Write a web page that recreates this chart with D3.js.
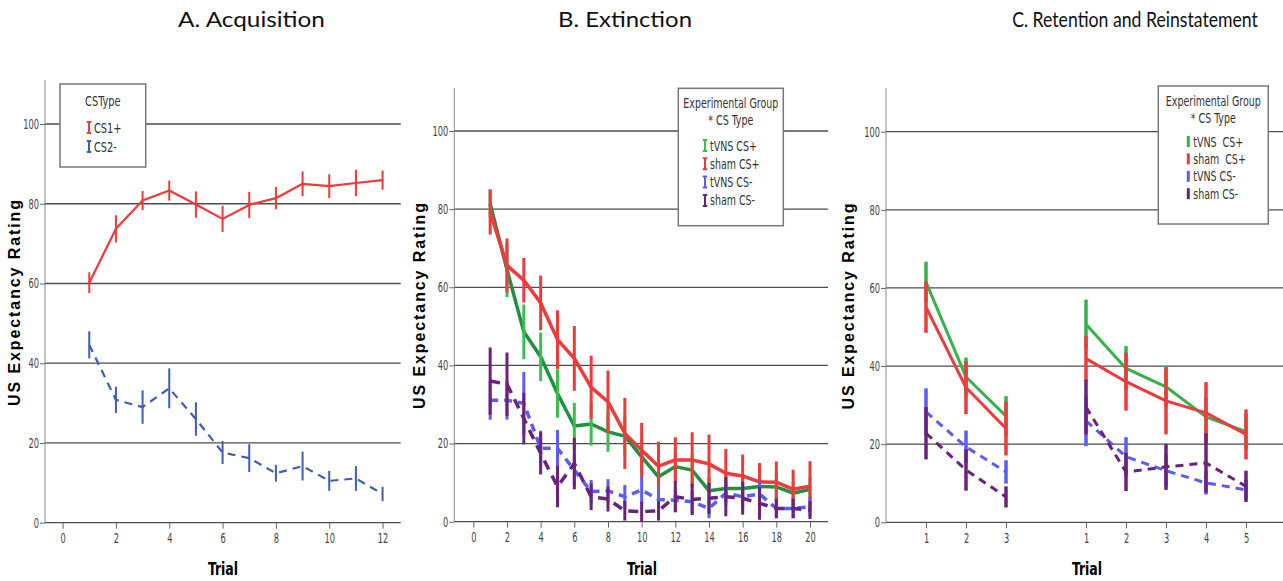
<!DOCTYPE html>
<html><head><meta charset="utf-8">
<script src="https://cdn.jsdelivr.net/npm/d3@7/dist/d3.min.js"></script>
<style>
body{margin:0;background:#fff;}
text{font-family:"Liberation Sans Narrow","DejaVu Sans Condensed",sans-serif;}
</style></head>
<body>
<script>
// ---------- DATA ----------
const yTicks = [0, 20, 40, 60, 80, 100];

// A. Acquisition
const acqTrials = [1,2,3,4,5,6,7,8,9,10,11,12];
const acqXTicks = [0,2,4,6,8,10,12];
const acqCS1Mean = [60.2, 73.7, 80.8, 83.3, 79.8, 76.2, 79.7, 81.4, 85.0, 84.4, 85.2, 85.9];
const acqCS1Err  = [2.6, 3.4, 2.4, 2.5, 3.3, 3.3, 3.3, 2.8, 3.1, 3.0, 3.3, 2.4];
const acqCS2Mean = [44.6, 30.8, 29.0, 33.7, 26.0, 17.6, 16.2, 12.4, 14.2, 10.5, 11.1, 7.2];
const acqCS2Err  = [3.4, 3.3, 4.2, 5.0, 4.2, 2.9, 3.5, 2.1, 3.6, 2.5, 3.1, 1.8];

// B. Extinction
const extTrials = d3.range(1, 21);
const extXTicks = [0,2,4,6,8,10,12,14,16,18,20];
const extTvnsPlus     = [81.4, 64.5, 48.6, 42.2, 32.8, 24.5, 25.0, 23.0, 21.9, 16.6, 11.5, 14.1, 13.2, 7.9, 8.5, 8.5, 9.0, 8.9, 7.3, 8.3];
const extTvnsPlusErr  = [3.5, 7.0, 7.0, 6.2, 6.2, 5.9, 5.5, 5.1, 5.0, 4.5, 4.0, 4.0, 4.0, 3.5, 3.5, 3.5, 3.5, 3.5, 3.0, 3.0];
const extShamPlus     = [79.3, 65.6, 61.8, 56.0, 46.6, 41.8, 34.4, 30.7, 22.6, 18.3, 14.2, 15.8, 15.8, 14.8, 12.4, 11.7, 10.2, 10.1, 8.3, 9.1];
const extShamPlusErr  = [5.8, 6.9, 5.7, 7.0, 7.5, 8.3, 8.1, 8.0, 9.1, 7.0, 6.3, 5.8, 7.1, 7.5, 6.2, 5.5, 4.8, 5.3, 5.0, 6.4];
const extTvnsMinus    = [31.1, 31.1, 30.3, 18.8, 18.8, 13.2, 7.7, 7.9, 6.4, 8.1, 5.7, 5.5, 5.1, 3.4, 7.3, 6.4, 7.1, 3.4, 3.4, 3.8];
const extTvnsMinusErr = [5.0, 5.0, 8.0, 4.5, 4.7, 4.0, 3.0, 3.0, 3.0, 3.4, 3.0, 3.0, 3.0, 2.5, 3.0, 3.0, 3.0, 2.5, 2.5, 2.5];
const extShamMinus    = [36.0, 35.2, 26.4, 17.5, 9.0, 14.9, 6.4, 5.8, 2.8, 2.6, 2.8, 6.4, 5.7, 6.0, 6.4, 6.0, 4.7, 3.4, 3.4, 3.0];
const extShamMinusErr = [8.6, 8.1, 6.6, 5.4, 5.3, 6.6, 3.4, 3.2, 2.5, 2.5, 2.5, 4.0, 4.0, 4.0, 5.0, 4.2, 4.2, 2.5, 2.5, 2.3];

// C. Retention and Reinstatement
const retTrials  = [1, 2, 3];
const reinTrials = [1, 2, 3, 4, 5];
const retTvnsPlus      = [61.5, 37.2, 27.2];
const retTvnsPlusErr   = [5.2, 5.0, 5.1];
const retShamPlus      = [55.1, 34.5, 24.0];
const retShamPlusErr   = [6.6, 6.8, 6.9];
const retTvnsMinus     = [28.3, 19.3, 12.9];
const retTvnsMinusErr  = [6.0, 4.2, 3.0];
const retShamMinus     = [22.8, 13.4, 6.5];
const retShamMinusErr  = [6.7, 5.3, 2.7];
const reinTvnsPlus     = [50.7, 39.4, 34.7, 27.0, 23.2];
const reinTvnsPlusErr  = [6.3, 5.7, 5.3, 5.0, 4.5];
const reinShamPlus     = [41.9, 36.0, 31.1, 28.0, 22.5];
const reinShamPlusErr  = [5.8, 7.4, 8.6, 7.9, 6.4];
const reinTvnsMinus    = [26.0, 16.8, 13.2, 10.1, 8.3];
const reinTvnsMinusErr = [6.5, 5.0, 4.0, 3.0, 2.5];
const reinShamMinus    = [29.5, 12.9, 14.2, 15.2, 9.2];
const reinShamMinusErr = [7.0, 4.9, 5.9, 7.6, 4.0];

const titles = ["A. Acquisition", "B. Extinction", "C. Retention and Reinstatement"];
const titleWidths = [147, 134, 246];
const yLabel = "US Expectancy Rating";
const xLabel = "Trial";

// ---------- DRAW ----------
const W = 1283, H = 581;
const svg = d3.select("body").append("svg").attr("width", W).attr("height", H);
const NARROW = '"Liberation Sans Narrow","DejaVu Sans Condensed",sans-serif';

const C = {
  red: "#ef3a3c", blueA: "#3f5cb8",
  greenLine: "#1f9140", greenBar: "#3cbd4c", greenC: "#35b24a",
  blue: "#5a5cff", purple: "#6c2279"
};

// scale text horizontally (around its anchor) to mimic a narrow font
function squeeze(sel, f, target) {
  sel.each(function () {
    const el = d3.select(this);
    const w = this.getComputedTextLength();
    const s = target ? target / w : f;
    const x = +el.attr("x") || 0, y = +el.attr("y") || 0;
    el.attr("x", 0).attr("y", 0).attr("transform", `translate(${x},${y}) scale(${s},1)`);
  });
}

function frame(p, idx) {
  const g = svg.append("g");
  g.selectAll("line.grid").data(yTicks).join("line")
    .attr("x1", p.x0).attr("x2", p.x1)
    .attr("y1", d => p.y(d)).attr("y2", d => p.y(d))
    .attr("stroke", "#4d4d4d").attr("stroke-width", 1.3);
  const ya = g.append("g").attr("transform", `translate(${p.x0},0)`)
    .call(d3.axisLeft(p.y).tickValues(yTicks).tickSize(5).tickPadding(1));
  ya.select(".domain").attr("stroke", "#8a8a8a").attr("d", `M0,${p.y.range()[0]}V${p.yTop}`);
  ya.selectAll(".tick line").attr("stroke", "#666");
  ya.selectAll(".tick text").attr("fill", "#444").style("font-size", "13.5px").style("font-family", NARROW);
  squeeze(ya.selectAll(".tick text"), 0.68);
  const xa = g.append("g").attr("transform", `translate(0,${p.y(0)})`)
    .call(d3.axisBottom(p.x).tickValues(p.xTicks).tickSize(6).tickPadding(5)
      .tickFormat(p.xFormat || (d => d)));
  xa.select(".domain").remove();
  xa.selectAll(".tick line").attr("stroke", "#666");
  xa.selectAll(".tick text").attr("fill", "#444").style("font-size", "13.5px").style("font-family", NARROW);
  squeeze(xa.selectAll(".tick text"), 0.68);
  const tt = svg.append("text").attr("x", p.titleX).attr("y", 27).attr("text-anchor", "middle")
    .style("font-family", 'Lato,"Open Sans",sans-serif').style("font-size", "21.5px").attr("fill", "#111")
    .text(p.title);
  squeeze(tt, 1, titleWidths[idx]);
  svg.append("text").attr("transform", `translate(${p.yLabX},${p.yLabY}) rotate(-90)`)
    .attr("text-anchor", "middle").attr("dominant-baseline", "central")
    .style("font-family", '"Liberation Sans",Arial,sans-serif').style("font-weight", "bold")
    .style("font-size", "16px").style("letter-spacing", "1.9px").attr("fill", "#000")
    .text(yLabel);
  const xl = svg.append("text").attr("x", p.xLabX).attr("y", 575).attr("text-anchor", "middle")
    .style("font-family", NARROW)
    .style("font-weight", "bold").style("font-size", "17px").attr("fill", "#000")
    .text(xLabel);
  squeeze(xl, 0.82);
  return g;
}

function series(g, p, xs, means, errs, o) {
  const pts = xs.map((t, i) => ({ t, v: means[i], e: errs[i] }));
  const line = d3.line().x(d => p.x(d.t)).y(d => p.y(d.v));
  g.append("path").attr("d", line(pts)).attr("fill", "none")
    .attr("stroke", o.line).attr("stroke-width", o.lw)
    .attr("stroke-dasharray", o.dash || null).attr("stroke-linejoin", "round");
  g.selectAll(null).data(pts).join("line")
    .attr("x1", d => p.x(d.t)).attr("x2", d => p.x(d.t))
    .attr("y1", d => p.y(d.v - d.e)).attr("y2", d => p.y(d.v + d.e))
    .attr("stroke", o.bar || o.line).attr("stroke-width", o.bw);
}

function legend(p, L) {
  const g = svg.append("g");
  g.append("rect").attr("x", L.x).attr("y", L.y).attr("width", L.w).attr("height", L.h)
    .attr("fill", "#fff").attr("stroke", "#777").attr("stroke-width", 1.5);
  L.title.forEach((t, i) => {
    const tt = g.append("text").attr("x", L.x + L.w / 2).attr("y", L.ty + i * 16.5)
      .attr("text-anchor", "middle").style("font-size", L.fs).attr("fill", "#333").text(t);
    squeeze(tt, 0.78);
  });
  L.items.forEach((it, i) => {
    const yy = L.iy + i * L.step;
    if (L.caps) {
      g.append("path").attr("d", `M${L.mx - 2.2},${yy - 6}H${L.mx + 2.2}M${L.mx},${yy - 6}V${yy + 5}M${L.mx - 2.2},${yy + 5}H${L.mx + 2.2}`)
        .attr("stroke", it.c).attr("stroke-width", 2).attr("fill", "none");
    } else {
      g.append("line").attr("x1", L.mx).attr("x2", L.mx).attr("y1", yy - 6).attr("y2", yy + 5)
        .attr("stroke", it.c).attr("stroke-width", 3);
    }
    const tx = g.append("text").attr("x", L.mx + 5).attr("y", yy + 4.5).style("font-size", L.fs)
      .attr("fill", "#333").style("white-space", "pre").text(it.t);
    squeeze(tx, 0.78);
  });
}

// ---- Panel A ----
{
  const p = {
    x: d3.scaleLinear().domain([-0.66, 12.68]).range([45, 400.7]),
    y: d3.scaleLinear().domain([0, 100]).range([522.7, 124]),
    x0: 45, x1: 400.7, yTop: 80, xTicks: acqXTicks,
    title: titles[0], titleX: 251.5, yLabX: 14, yLabY: 302, xLabX: 223
  };
  const g = frame(p, 0);
  series(g, p, acqTrials, acqCS2Mean, acqCS2Err, { line: C.blueA, lw: 2.2, bw: 2, dash: "8,6" });
  series(g, p, acqTrials, acqCS1Mean, acqCS1Err, { line: C.red, lw: 2.2, bw: 2 });
  legend(p, { x: 60, y: 84, w: 85.7, h: 83, ty: 106, title: ["CSType"], fs: "14px",
    iy: 128, step: 19, mx: 89, caps: true,
    items: [{ t: "CS1+", c: C.red }, { t: "CS2-", c: C.blueA }] });
}

// ---- Panel B ----
{
  const p = {
    x: d3.scaleLinear().domain([-1.13, 21.07]).range([454.3, 828]),
    y: d3.scaleLinear().domain([0, 100]).range([521.7, 131]),
    x0: 454.3, x1: 828, yTop: 88, xTicks: extXTicks,
    title: titles[1], titleX: 625, yLabX: 419, yLabY: 305, xLabX: 642
  };
  const g = frame(p, 1);
  series(g, p, extTrials, extTvnsPlus, extTvnsPlusErr, { line: C.greenLine, bar: C.greenBar, lw: 3.5, bw: 3 });
  series(g, p, extTrials, extShamPlus, extShamPlusErr, { line: C.red, lw: 3.5, bw: 3 });
  series(g, p, extTrials, extTvnsMinus, extTvnsMinusErr, { line: C.blue, lw: 3.5, bw: 3, dash: "8,6" });
  series(g, p, extTrials, extShamMinus, extShamMinusErr, { line: C.purple, lw: 3.5, bw: 3, dash: "10,7" });
  legend(p, { x: 678.3, y: 88.3, w: 105, h: 137.4, ty: 108, title: ["Experimental Group", "* CS Type"], fs: "13.5px",
    iy: 146, step: 18.3, mx: 705, caps: true,
    items: [{ t: "tVNS CS+", c: C.greenBar }, { t: "sham CS+", c: C.red }, { t: "tVNS CS-", c: C.blue }, { t: "sham CS-", c: C.purple }] });
}

// ---- Panel C ----
{
  const slotsRet = retTrials.map(t => t - 1);
  const slotsRein = reinTrials.map(t => t + 3);
  const cTickLabels = retTrials.concat(reinTrials);
  const cTickSlots = slotsRet.concat(slotsRein);
  const p = {
    x: d3.scaleLinear().domain([-1, 8.925]).range([886, 1283]),
    y: d3.scaleLinear().domain([0, 100]).range([522.3, 131.7]),
    x0: 886, x1: 1283, yTop: 88, xTicks: cTickSlots,
    xFormat: (d, i) => cTickLabels[i],
    title: titles[2], titleX: 1135, yLabX: 848, yLabY: 305.5, xLabX: 1087
  };
  const g = frame(p, 2);
  const sets = [
    [retTvnsPlus, retTvnsPlusErr, reinTvnsPlus, reinTvnsPlusErr, { line: C.greenC, lw: 3, bw: 3.5 }],
    [retShamPlus, retShamPlusErr, reinShamPlus, reinShamPlusErr, { line: C.red, lw: 3, bw: 3.5 }],
    [retTvnsMinus, retTvnsMinusErr, reinTvnsMinus, reinTvnsMinusErr, { line: C.blue, lw: 3, bw: 3.5, dash: "8,6" }],
    [retShamMinus, retShamMinusErr, reinShamMinus, reinShamMinusErr, { line: C.purple, lw: 3, bw: 3.5, dash: "8,6" }]
  ];
  sets.forEach(s => {
    series(g, p, slotsRet, s[0], s[1], s[4]);
    series(g, p, slotsRein, s[2], s[3], s[4]);
  });
  legend(p, { x: 1158.3, y: 86, w: 110, h: 138, ty: 106, title: ["Experimental Group", "* CS Type"], fs: "13.5px",
    iy: 142, step: 17.4, mx: 1188.3, caps: false,
    items: [{ t: "tVNS  CS+", c: C.greenC }, { t: "sham  CS+", c: C.red }, { t: "tVNS CS-", c: C.blue }, { t: "sham CS-", c: C.purple }] });
}
</script>
</body></html>
